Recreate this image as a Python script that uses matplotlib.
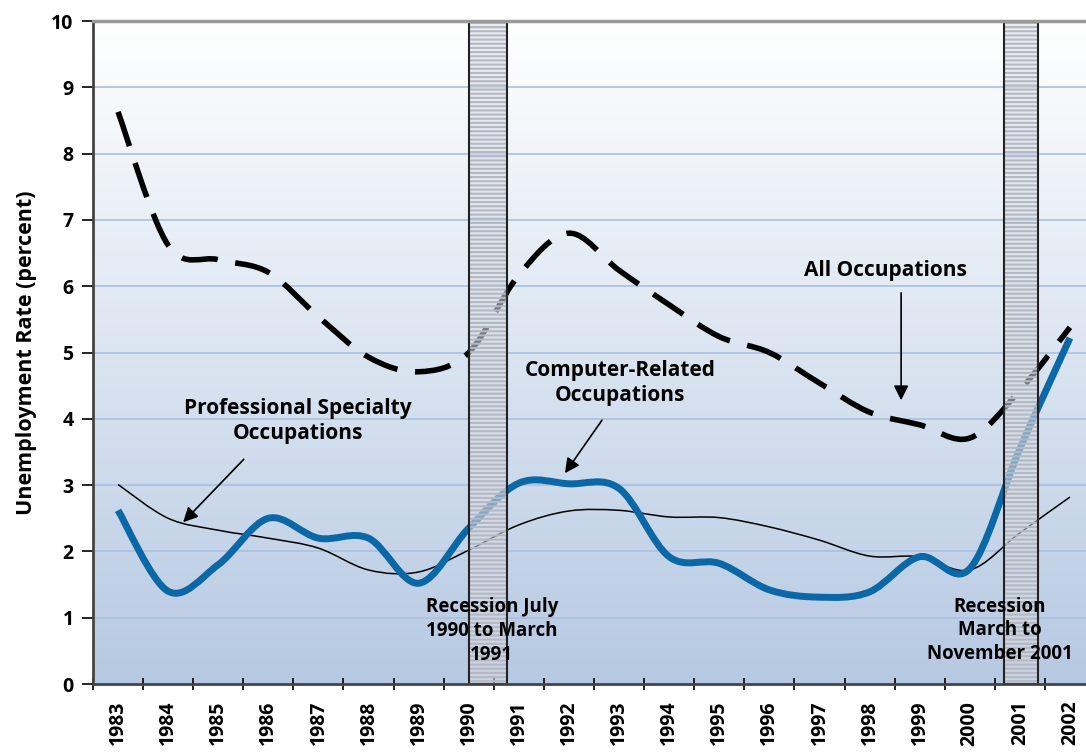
import numpy as np
import matplotlib
matplotlib.use("Agg")
import matplotlib.pyplot as plt
from matplotlib.path import Path
from matplotlib.patches import PathPatch, Rectangle
from matplotlib.colors import LinearSegmentedColormap

plt.rcParams['font.family'] = ['Open Sans', 'DejaVu Sans']

years = [str(y) for y in range(1983, 2003)]

# unemployment rates
all_occ = [8.63, 6.62, 6.40, 6.21, 5.54, 4.93, 4.71, 5.00, 6.17, 6.80,
           6.24, 5.72, 5.24, 5.00, 4.54, 4.10, 3.91, 3.71, 4.43, 5.38]
computer = [2.62, 1.40, 1.80, 2.50, 2.20, 2.20, 1.52, 2.35, 3.03, 3.02,
            2.95, 1.92, 1.82, 1.42, 1.31, 1.39, 1.92, 1.74, 3.55, 5.22]
professional = [3.01, 2.50, 2.32, 2.20, 2.05, 1.72, 1.69, 2.02, 2.40, 2.61,
                2.62, 2.52, 2.51, 2.37, 2.17, 1.93, 1.92, 1.72, 2.28, 2.82]

# recession spans in category units (1990 = 7)
recessions = [(7.0, 7.76), (17.68, 18.36)]


def smooth_path(xs, ys):
    # excel-style smoothed line: bezier segments with catmull-rom controls
    pts = np.column_stack([xs, ys])
    n = len(pts)
    verts = [pts[0]]
    codes = [Path.MOVETO]
    for i in range(n - 1):
        p0 = pts[i - 1] if i > 0 else pts[i]
        p1 = pts[i]
        p2 = pts[i + 1]
        p3 = pts[i + 2] if i + 2 < n else pts[i + 1]
        c1 = p1 + (p2 - p0) / 6.0
        c2 = p2 - (p3 - p1) / 6.0
        verts += [c1, c2, p2]
        codes += [Path.CURVE4] * 3
    return Path(verts, codes)


fig = plt.figure(figsize=(10.86, 7.54), dpi=100)
ax = fig.add_axes([0.0856, 0.0928, 0.9144, 0.8793])

x = np.arange(len(years))
xmin, xmax = -0.5, 19.32
ax.set_xlim(xmin, xmax)
ax.set_ylim(0, 10)

# gradient background
cmap = LinearSegmentedColormap.from_list('bg', ['#ffffff', '#dbe5f1', '#b6c9e2'])
ax.imshow(np.linspace(0, 1, 256).reshape(-1, 1), extent=[xmin, xmax, 0, 10],
          aspect='auto', cmap=cmap, zorder=0)

for yv in range(1, 10):
    ax.axhline(yv, color='#a9c0de', lw=1.2, zorder=1)

ax.add_patch(PathPatch(smooth_path(x, professional), fill=False,
                       color='black', lw=1.1, zorder=3))
ax.add_patch(PathPatch(smooth_path(x, computer), fill=False,
                       color='#0b68a6', lw=5, zorder=3, capstyle='butt'))
ax.add_patch(PathPatch(smooth_path(x, all_occ), fill=False, color='black',
                       lw=4, linestyle=(0, (6.5, 3.2)), zorder=3))

plt.rcParams['hatch.linewidth'] = 1.5
for x0, x1 in recessions:
    ax.add_patch(Rectangle((x0, 0), x1 - x0, 10, facecolor=(0.86, 0.87, 0.9, 0.55),
                           edgecolor='#b4b8c2', hatch='----', lw=0, zorder=4))
    ax.add_patch(Rectangle((x0, 0), x1 - x0, 10, fill=False,
                           edgecolor='#222222', lw=1.5, zorder=5))

# labels and arrows
arrow = dict(arrowstyle='-|>', color='black', lw=1.2, mutation_scale=22,
             shrinkA=0, shrinkB=0)
ax.text(15.31, 6.24, 'All Occupations', ha='center', va='center',
        fontsize=15, fontweight='bold', zorder=6)
ax.annotate('', xy=(15.63, 4.28), xytext=(15.63, 5.90), arrowprops=arrow, zorder=6)
ax.text(10.02, 4.54, 'Computer-Related\nOccupations', ha='center', va='center',
        fontsize=15, fontweight='bold', linespacing=1.25, zorder=6)
ax.annotate('', xy=(8.92, 3.18), xytext=(9.66, 3.98), arrowprops=arrow, zorder=6)
ax.text(3.59, 3.97, 'Professional Specialty\nOccupations', ha='center', va='center',
        fontsize=15, fontweight='bold', linespacing=1.25, zorder=6)
ax.annotate('', xy=(1.30, 2.44), xytext=(2.51, 3.39), arrowprops=arrow, zorder=6)

ax.text(7.46, 0.80, 'Recession July\n1990 to March\n1991', ha='center', va='center',
        fontsize=13.5, fontweight='bold', linespacing=1.25, zorder=6)
ax.text(17.6, 0.81, 'Recession\nMarch to\nNovember 2001', ha='center', va='center',
        fontsize=13.5, fontweight='bold', linespacing=1.25, zorder=6)

# axes styling
ax.set_xticks(x)
ax.set_xticklabels(years, rotation=90, fontsize=14, fontweight='bold')
ax.set_xticks(np.arange(-0.5, 19, 1), minor=True)
ax.tick_params(axis='x', which='major', length=0, pad=12)
ax.tick_params(axis='x', which='minor', length=8, width=1.2, direction='inout')
ax.set_yticks(range(0, 11))
ax.set_yticklabels([str(v) for v in range(0, 11)], fontsize=14, fontweight='bold')
ax.tick_params(axis='y', length=8, width=1.2, direction='out', pad=6)
ax.set_ylabel('Unemployment Rate (percent)', fontsize=15.5, fontweight='bold', labelpad=10)

ax.spines['left'].set_color('#444444')
ax.spines['left'].set_linewidth(2)
ax.spines['bottom'].set_color('#444444')
ax.spines['bottom'].set_linewidth(2)
ax.spines['top'].set_color('#999999')
ax.spines['top'].set_linewidth(2.5)
ax.spines['right'].set_visible(False)
for s in ax.spines.values():
    s.set_zorder(7)

fig.savefig('out.png', dpi=100)
